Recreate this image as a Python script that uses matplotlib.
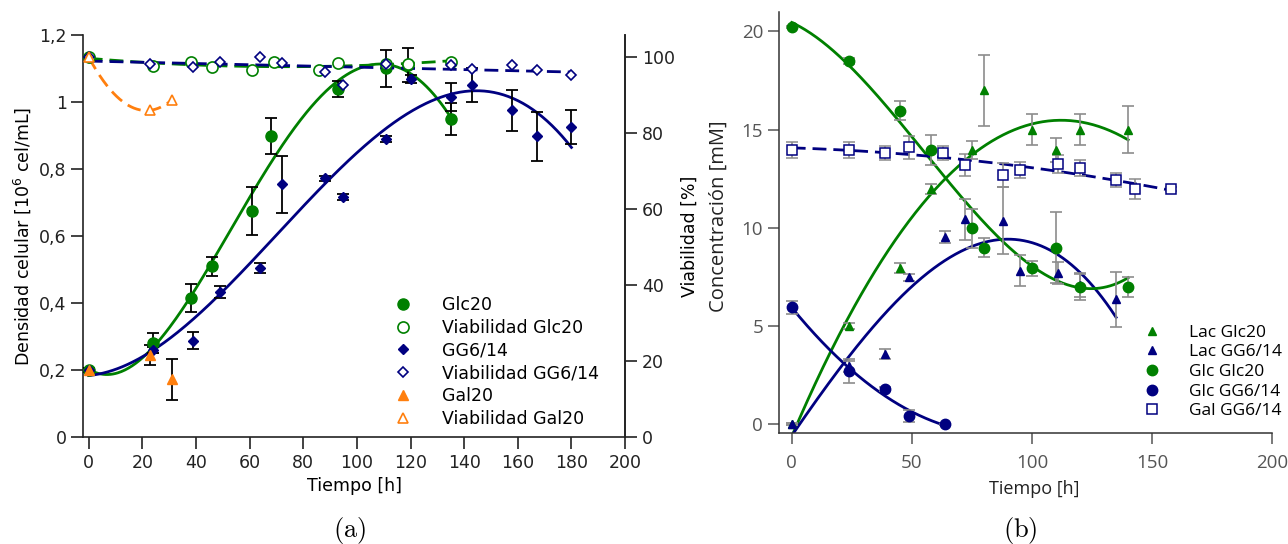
import numpy as np
import matplotlib
matplotlib.use('Agg')
import matplotlib.pyplot as plt
from matplotlib.lines import Line2D
from matplotlib.ticker import FuncFormatter

plt.rcParams['mathtext.fontset'] = 'dejavusans'

# ---------------- (a) densidad celular y viabilidad ----------------
t_glc = [0, 24, 38, 46, 61, 68, 93, 111, 119, 135]
dens_glc = [0.20, 0.28, 0.416, 0.51, 0.675, 0.898, 1.04, 1.10, 1.11, 0.95]
err_glc = [0.005, 0.03, 0.042, 0.028, 0.071, 0.053, 0.024, 0.056, 0.05, 0.048]

t_gg = [0, 24, 39, 49, 64, 72, 88, 95, 111, 120, 135, 143, 158, 167, 180]
dens_gg = [0.20, 0.26, 0.288, 0.434, 0.505, 0.755, 0.772, 0.716, 0.89, 1.07, 1.015, 1.05, 0.975, 0.898, 0.925]
err_gg = [0.005, 0.01, 0.026, 0.018, 0.015, 0.085, 0.008, 0.008, 0.008, 0.012, 0.042, 0.05, 0.061, 0.073, 0.05]

t_gal = [0, 23, 31]
dens_gal = [0.20, 0.245, 0.172]
err_gal = [0.005, 0.03, 0.062]

tv_glc = [0, 24, 38, 46, 61, 69, 86, 93, 111, 119, 135]
viab_glc = [100, 97.7, 98.8, 97.4, 96.5, 98.7, 96.5, 98.5, 98.3, 98.3, 98.8]

tv_gg = [0, 23, 39, 49, 64, 72, 88, 95, 111, 135, 143, 158, 167, 180]
viab_gg = [100, 98.3, 97.3, 98.6, 99.9, 98.5, 96.2, 92.6, 98.3, 98.0, 96.8, 97.8, 96.6, 95.2]

tv_gal = [0, 23, 31]
viab_gal = [100, 86.0, 88.7]

# ---------------- (b) metabolitos ----------------
t_lac_glc = [0, 24, 45, 58, 75, 80, 100, 110, 120, 140]
lac_glc = [0.0, 5.0, 7.95, 12.0, 13.95, 17.0, 15.0, 13.97, 15.0, 15.0]
elac_glc = [0.05, 0.15, 0.25, 0.25, 0.45, 1.8, 0.8, 0.6, 0.8, 1.2]

t_lac_gg = [0, 24, 39, 49, 64, 72, 88, 95, 111, 120, 135]
lac_gg = [0.0, 2.95, 3.6, 7.48, 9.55, 10.44, 10.37, 7.82, 7.69, 7.09, 6.36]
elac_gg = [0.05, 0.3, 0.25, 0.2, 0.3, 1.05, 1.7, 0.8, 0.55, 0.6, 1.4]

t_glc_glc = [0, 24, 45, 58, 75, 80, 100, 110, 120, 140]
glc_glc = [20.2, 18.5, 15.97, 13.97, 9.98, 9.0, 7.94, 9.0, 7.0, 7.0]
eglc_glc = [0.05, 0.15, 0.5, 0.75, 1.0, 0.5, 0.4, 1.8, 0.65, 0.5]

t_glc_gg = [0, 24, 39, 49, 64]
glc_gg = [5.96, 2.73, 1.78, 0.42, 0.0]
eglc_gg = [0.33, 0.6, 0.1, 0.3, 0.02]

t_gal_gg = [0, 24, 39, 49, 63, 72, 88, 95, 111, 120, 135, 143, 158]
gal_gg = [13.97, 13.97, 13.83, 14.1, 13.8, 13.2, 12.69, 12.95, 13.25, 13.03, 12.44, 11.97, 11.97]
egal_gg = [0.4, 0.4, 0.35, 0.6, 0.35, 0.55, 0.6, 0.4, 0.45, 0.4, 0.35, 0.5, 0.1]

GREEN = '#008000'
NAVY = '#000080'
ORANGE = '#ff7f0e'


def fit_line(ax, t, y, deg, color, ls='-', lw=2.0):
    c = np.polyfit(t, y, deg)
    tt = np.linspace(min(t), max(t), 300)
    ax.plot(tt, np.polyval(c, tt), color=color, ls=ls, lw=lw, zorder=2)


fig = plt.figure(figsize=(12.88, 5.44), dpi=100)

# ---- panel (a)
ax = fig.add_axes([0.0647, 0.1967, 0.4206, 0.739])
ax2 = ax.twinx()
fs = 12.5

for t, y, e, mk, col, deg in [(t_glc, dens_glc, err_glc, 'o', GREEN, 4),
                              (t_gg, dens_gg, err_gg, 'D', NAVY, 3),
                              (t_gal, dens_gal, err_gal, '^', ORANGE, None)]:
    ax.errorbar(t, y, yerr=e, fmt=mk, color=col, ms=8 if mk == 'o' else (5.5 if mk == 'D' else 7),
                ecolor='black', elinewidth=1.3, capsize=4.5, capthick=1.3, zorder=3)
    if deg:
        fit_line(ax, t, y, deg, col)

fit_line(ax2, tv_glc, viab_glc, 2, GREEN, ls=(0, (5, 2.5)))
fit_line(ax2, tv_gg, viab_gg, 1, NAVY, ls=(0, (5, 2.5)))
fit_line(ax2, tv_gal, viab_gal, 2, ORANGE, ls=(0, (5, 2.5)))
ax2.plot(tv_glc, viab_glc, 'o', mfc='white', mec=GREEN, ms=8, mew=1.2, zorder=3)
ax2.plot(tv_gg, viab_gg, 'D', mfc='white', mec=NAVY, ms=5.5, mew=1.2, zorder=3)
ax2.plot(tv_gal, viab_gal, '^', mfc='white', mec=ORANGE, ms=7, mew=1.2, zorder=3)

ax.set_xlim(-2, 200)
ax.set_ylim(0, 1.2)
ax2.set_ylim(0, 1.2 / 1.134 * 100)
ax.set_xticks(np.arange(0, 201, 20))
ax.set_yticks(np.arange(0, 1.21, 0.2))
ax.yaxis.set_major_formatter(FuncFormatter(lambda v, p: ('%g' % round(v, 1)).replace('.', ',')))
ax2.set_yticks(np.arange(0, 101, 20))
for a in (ax, ax2):
    a.spines['top'].set_visible(False)
    a.tick_params(direction='out', length=8.5, width=1.2, labelsize=fs, colors='#222222')
    for s in a.spines.values():
        s.set_linewidth(1.2)
        s.set_color('#222222')
ax2.spines['left'].set_visible(False)
ax2.spines['bottom'].set_visible(False)
ax.set_xlabel('Tiempo [h]', fontsize=fs)
ax.set_ylabel(r'Densidad celular [10$^6$ cel/mL]', fontsize=fs)
ax2.set_ylabel('Viabilidad [%]', fontsize=fs)

handles = [Line2D([], [], ls='', marker='o', color=GREEN, ms=8),
           Line2D([], [], ls='', marker='o', mfc='white', mec=GREEN, ms=8, mew=1.2),
           Line2D([], [], ls='', marker='D', color=NAVY, ms=5.5),
           Line2D([], [], ls='', marker='D', mfc='white', mec=NAVY, ms=5.5, mew=1.2),
           Line2D([], [], ls='', marker='^', color=ORANGE, ms=7),
           Line2D([], [], ls='', marker='^', mfc='white', mec=ORANGE, ms=7, mew=1.2)]
labels = ['Glc20', 'Viabilidad Glc20', 'GG6/14', 'Viabilidad GG6/14', 'Gal20', 'Viabilidad Gal20']
fig.legend(handles, labels, loc='center left', bbox_to_anchor=(386 / 1288, 1 - 362 / 544),
           frameon=False, fontsize=fs, handlelength=1.0, handletextpad=1.7,
           labelspacing=0.28, borderpad=0)

# ---- panel (b)
bx = fig.add_axes([0.6048, 0.2035, 0.383, 0.775])
bfont = 'Open Sans'
series = [
    (t_lac_glc, lac_glc, elac_glc, '^', GREEN, 'full', 2, '-'),
    (t_lac_gg, lac_gg, elac_gg, '^', NAVY, 'full', 3, '-'),
    (t_glc_glc, glc_glc, eglc_glc, 'o', GREEN, 'full', 3, '-'),
    (t_glc_gg, glc_gg, eglc_gg, 'o', NAVY, 'full', 2, '-'),
    (t_gal_gg, gal_gg, egal_gg, 's', NAVY, 'none', 2, (0, (5, 2.5))),
]
blabels = ['Lac Glc20', 'Lac GG6/14', 'Glc Glc20', 'Glc GG6/14', 'Gal GG6/14']
bhandles = []
for t, y, e, mk, col, fill, deg, ls in series:
    size = 6 if mk == '^' else (7.5 if mk == 'o' else 7)
    if fill == 'none':
        kw = dict(mfc='white', mec=col, mew=1.1)
    else:
        kw = dict(color=col)
    bx.errorbar(t, y, yerr=e, fmt=mk, ms=size, ecolor='#8c8c8c', elinewidth=1.2,
                capsize=4.5, capthick=1.2, zorder=3, **kw)
    fit_line(bx, t, y, deg, col, ls=ls, lw=2.0)
    bhandles.append(Line2D([], [], ls='', marker=mk, ms=size, **kw))

bx.set_xlim(-5.3, 200)
bx.set_ylim(-0.45, 21)
bx.set_xticks([0, 50, 100, 150, 200])
bx.set_yticks([0, 5, 10, 15, 20])
bx.spines['top'].set_visible(False)
bx.spines['right'].set_visible(False)
for s in ('left', 'bottom'):
    bx.spines[s].set_color('#333333')
    bx.spines[s].set_linewidth(1.1)
bx.tick_params(direction='out', length=8, width=1.1, colors='#555555', labelsize=13.5)
bx.tick_params(axis='x', pad=7)
for lbl in bx.get_xticklabels() + bx.get_yticklabels():
    lbl.set_family(bfont)
bx.set_xlabel('Tiempo [h]', fontsize=13, family=bfont, color='#222222')
bx.set_ylabel('Concentración [mM]', fontsize=14.5, family=bfont, color='#222222')
bx.xaxis.set_label_coords((1034 - 779) / (1272.3 - 779), -0.11)
bx.yaxis.set_label_coords(-(779 - 729) / (1272.3 - 779), (433.3 - 216.5) / (433.3 - 11.7))
bx.legend(bhandles, blabels, loc='center left', bbox_to_anchor=(1135 / 1288, 1 - 372 / 544),
          bbox_transform=fig.transFigure, frameon=False, handlelength=1.0, handletextpad=1.6,
          labelspacing=0.2, borderpad=0, prop={'family': bfont, 'size': 12.5})

# captions
fig.text(350 / 1288, 1 - 530 / 544, r'$\mathrm{(a)}$', ha='center', va='center', fontsize=19,
         math_fontfamily='cm')
fig.text(1020 / 1288, 1 - 530 / 544, r'$\mathrm{(b)}$', ha='center', va='center', fontsize=19,
         math_fontfamily='cm')

fig.savefig('out.png', dpi=100)
